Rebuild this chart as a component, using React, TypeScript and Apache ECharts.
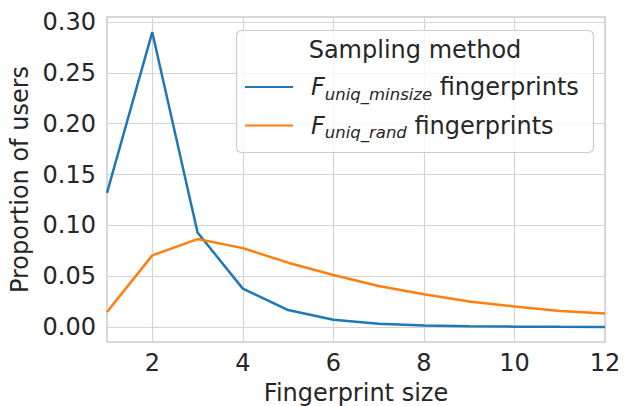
import React, { useEffect, useRef } from "react";
import * as echarts from "echarts";

const sizes = [1, 2, 3, 4, 5, 6, 7, 8, 9, 10, 11, 12];
const minsizeValues = [0.132, 0.29, 0.093, 0.0378, 0.0167, 0.0072, 0.0032, 0.0015, 0.0008, 0.0004, 0.0002, 0.0001];
const randValues = [0.0148, 0.0705, 0.0865, 0.0776, 0.0633, 0.0512, 0.0404, 0.0322, 0.0252, 0.0203, 0.0159, 0.0133];
const xTicks = [2, 4, 6, 8, 10, 12];
const yTicks = [0, 0.05, 0.1, 0.15, 0.2, 0.25, 0.3];
const seriesNames = ["minsize", "rand"];
const subscripts = ["uniq_minsize", "uniq_rand"];

const FONT = "DejaVu Sans";
const TEXT = "#262626";
const GRID = "#d4d4d4";
const FS = 24;

export default function App() {
  const ref = useRef<HTMLDivElement>(null);
  useEffect(() => {
    const chart = echarts.init(ref.current!, undefined, { renderer: "svg" });
    chart.setOption({
      animation: false,
      backgroundColor: "#ffffff",
      grid: {
        left: 107,
        right: 25,
        top: 17,
        bottom: 64,
        show: true,
        borderColor: "#cccccc",
        borderWidth: 1.5,
        containLabel: false,
        outerBoundsMode: "none",
      },
      xAxis: {
        type: "value",
        min: 1,
        max: 12,
        name: "Fingerprint size",
        nameLocation: "middle",
        nameGap: 39,
        nameTextStyle: { fontFamily: FONT, fontSize: FS, color: TEXT, lineHeight: 24 },
        axisLine: { show: false },
        axisTick: { show: false, customValues: xTicks },
        axisLabel: { customValues: xTicks, fontFamily: FONT, fontSize: FS, color: TEXT, margin: 9 },
        splitLine: { show: true, lineStyle: { color: GRID, width: 1.2 } },
      },
      yAxis: {
        type: "value",
        min: -0.0147,
        max: 0.3049,
        name: "Proportion of users",
        nameLocation: "middle",
        nameGap: 72,
        nameTextStyle: { fontFamily: FONT, fontSize: FS, color: TEXT },
        axisLine: { show: false },
        axisTick: { show: false, customValues: yTicks },
        axisLabel: {
          customValues: yTicks,
          fontFamily: FONT,
          fontSize: FS,
          color: TEXT,
          margin: 11,
          formatter: (v: number) => v.toFixed(2),
        },
        splitLine: { show: true, lineStyle: { color: GRID, width: 1.2 } },
      },
      graphic: [
        {
          type: "rect",
          z: 10,
          shape: { x: 236.5, y: 30.5, width: 357, height: 122, r: 5 },
          style: { fill: "rgba(255,255,255,0.8)", stroke: "#cccccc", lineWidth: 1.2 },
        },
        {
          type: "text",
          z: 11,
          x: 415,
          y: 50,
          style: {
            text: "Sampling method",
            font: `${FS}px "${FONT}"`,
            fill: TEXT,
            align: "center",
            verticalAlign: "middle",
          },
        },
      ],
      legend: {
        orient: "vertical",
        left: 236,
        top: 75,
        z: 12,
        itemWidth: 48,
        itemHeight: 14,
        itemGap: 11,
        padding: [0, 0, 0, 9],
        icon: "path://M0,6 L48,6 L48,8 L0,8 Z",
        data: seriesNames,
        formatter: (name: string) => {
          const i = seriesNames.indexOf(name);
          return `{f|F}{s|${subscripts[i]}}{t| fingerprints}`;
        },
        textStyle: {
          fontFamily: FONT,
          fontSize: FS,
          color: TEXT,
          rich: {
            f: { fontFamily: FONT, fontSize: FS, fontStyle: "italic", color: TEXT, padding: [0, 0, 0, 13] },
            s: { fontFamily: FONT, fontSize: 16.5, fontStyle: "italic", color: TEXT, padding: [14, 0, 0, 0] },
            t: { fontFamily: FONT, fontSize: FS, color: TEXT },
          },
        },
      },
      series: [
        {
          name: seriesNames[0],
          type: "line",
          data: sizes.map((x, i) => [x, minsizeValues[i]]),
          symbol: "none",
          lineStyle: { color: "#1f77b4", width: 2.5 },
          itemStyle: { color: "#1f77b4" },
        },
        {
          name: seriesNames[1],
          type: "line",
          data: sizes.map((x, i) => [x, randValues[i]]),
          symbol: "none",
          lineStyle: { color: "#ff7f0e", width: 2.5 },
          itemStyle: { color: "#ff7f0e" },
        },
      ],
    });
    return () => chart.dispose();
  }, []);
  return <div ref={ref} style={{ width: 630, height: 406, position: "absolute", left: 0, top: 0 }} />;
}
